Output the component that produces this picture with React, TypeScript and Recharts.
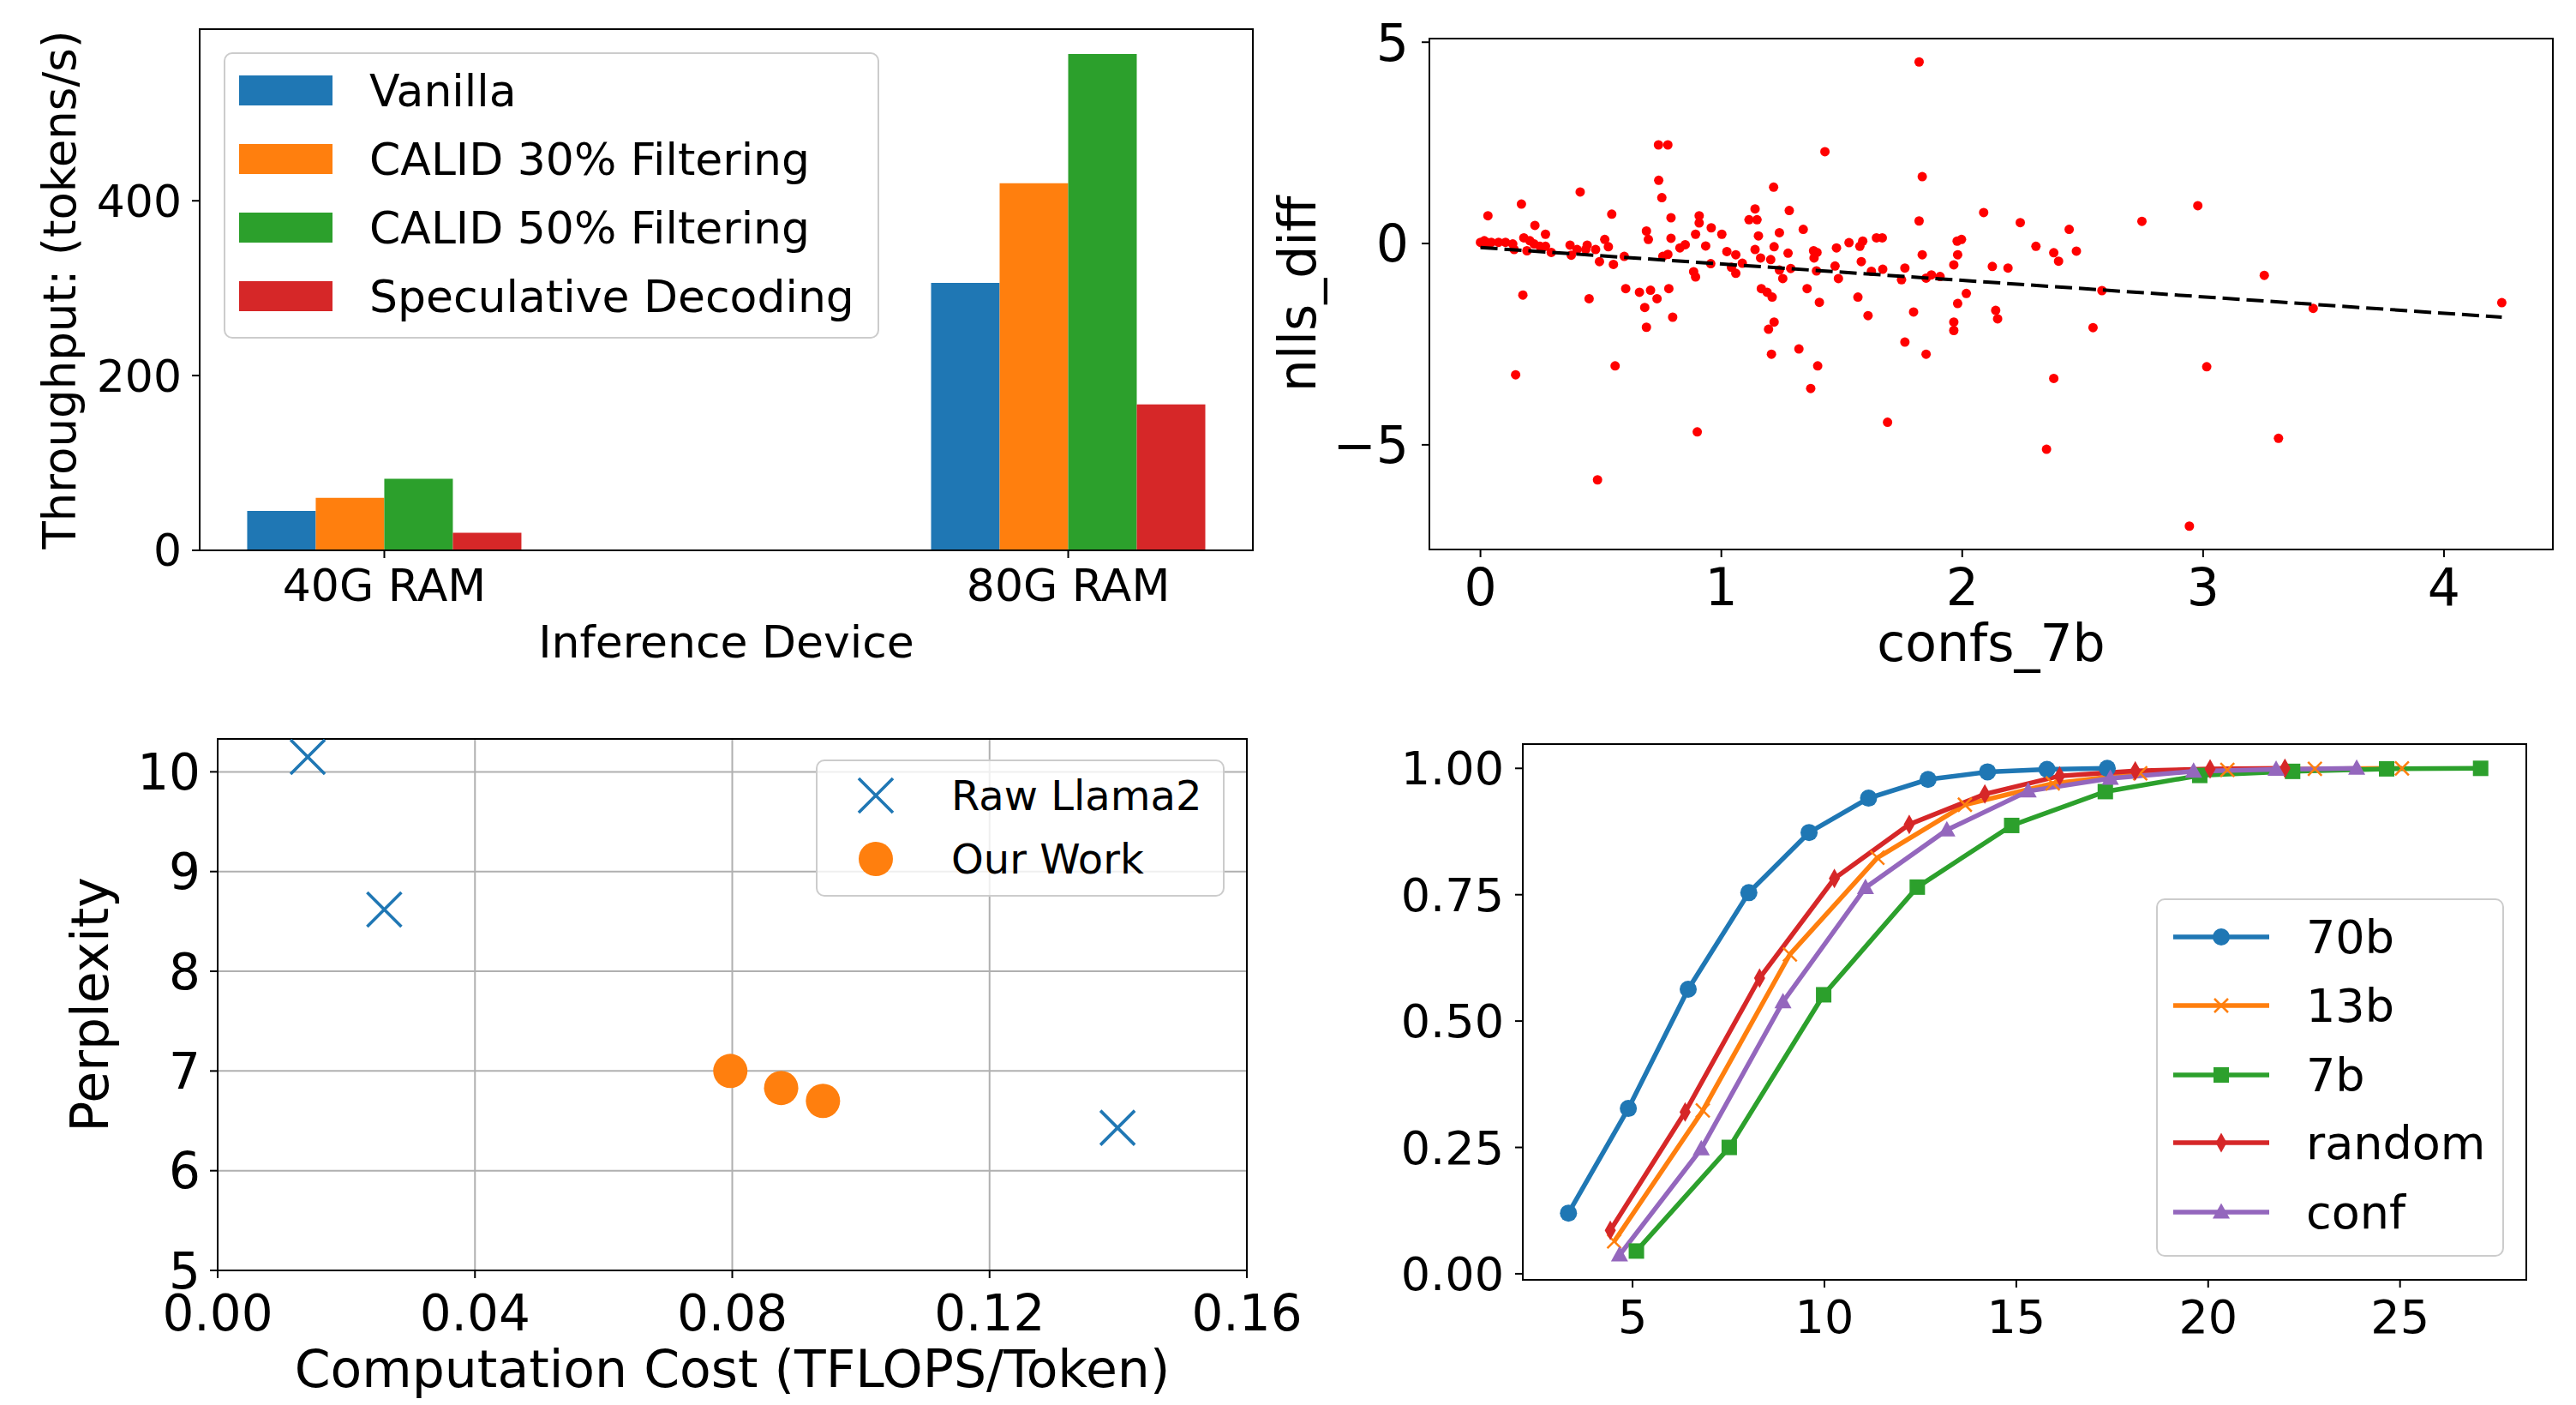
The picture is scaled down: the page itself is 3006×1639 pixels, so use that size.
import React from 'react';
import {
  ComposedChart,
  ScatterChart,
  LineChart,
  Bar,
  Scatter,
  Line,
  XAxis,
  YAxis,
  CartesianGrid,
  ReferenceArea,
  Legend,
} from 'recharts';

const FONT = '"DejaVu Sans", Verdana, sans-serif';
const BLUE = '#1f77b4';
const ORANGE = '#ff7f0e';
const GREEN = '#2ca02c';
const RED = '#d62728';
const PURPLE = '#9467bd';

// top left: throughput per device
const devices = ['40G RAM', '80G RAM'];
const vanilla = [45, 306];
const calid30 = [60, 420];
const calid50 = [82, 568];
const speculative = [20, 167];

// top right: nlls_diff against confs_7b
const confs7b = [
  0.0, 0.01, 0.016, 0.03, 0.045, 0.075, 0.104, 0.134, 0.14, 0.18, 0.193, 0.205, 0.223, 0.247, 0.27, 0.294,
  0.031, 0.17, 0.226, 0.27, 0.176, 0.146, 0.372, 0.377, 0.401, 0.443, 0.437, 0.414, 0.451, 0.478, 0.516,
  0.531, 0.494, 0.552, 0.545, 0.559, 0.486, 0.597, 0.603, 0.66, 0.706, 0.733, 0.682, 0.689, 0.798, 0.782,
  0.689, 0.697, 0.74, 0.753, 0.739, 0.778, 0.791, 0.791, 0.778, 0.757, 0.828, 0.85, 0.908, 0.908, 0.893,
  0.885, 0.893, 0.9, 0.935, 0.958, 0.956, 1.002, 1.023, 1.06, 1.042, 1.06, 1.087, 1.14, 1.115, 1.148,
  1.154, 1.14, 1.163, 1.205, 1.217, 1.219, 1.166, 1.19, 1.211, 1.219, 1.196, 1.208, 1.241, 1.241, 1.255,
  1.282, 1.277, 1.288, 1.34, 1.356, 1.322, 1.4, 1.371, 1.43, 1.383, 1.397, 1.385, 1.395, 1.407, 1.478,
  1.472, 1.486, 1.53, 1.575, 1.587, 1.581, 1.567, 1.609, 1.644, 1.668, 1.623, 1.67, 1.69, 1.762, 1.748,
  1.798, 1.762, 1.821, 1.834, 1.821, 1.834, 1.85, 1.872, 1.908, 1.85, 1.965, 1.981, 1.979, 1.997, 1.981,
  2.017, 1.965, 1.965, 2.089, 2.125, 2.19, 2.139, 2.147, 2.241, 2.306, 2.38, 2.4, 2.444, 2.474, 2.38,
  2.35, 2.543, 2.58, 2.746, 2.978, 3.015, 2.943, 3.254, 3.313, 3.457, 4.24,
];
const nllsDiff = [
  0.03, 0.0, 0.07, 0.02, 0.03, 0.03, 0.03, -0.01, -0.15, 0.14, -0.18, 0.07, -0.01, -0.07, -0.07, -0.22,
  0.69, 0.98, 0.45, 0.23, -1.28, -3.26, -0.04, -0.29, -0.15, -0.04, -0.15, 1.28, -1.37, -0.15, 0.1,
  -0.08, -0.45, -0.52, 0.73, -3.04, -5.87, -0.32, -1.12, -1.21, -1.16, -1.37, -1.59, -2.08, -1.83, -1.12,
  0.31, 0.1, 1.57, 1.14, 2.45, 2.45, 0.64, 0.13, -0.27, -0.32, -0.11, -0.03, 0.69, 0.51, 0.23,
  -0.7, -0.83, -4.68, -0.06, 0.39, -0.5, 0.23, -0.2, -0.28, -0.59, -0.74, -0.49, 0.86, 0.59, 0.59,
  0.19, -0.15, -0.36, -0.4, 1.4, -0.08, -1.12, -1.21, -1.33, -1.95, -2.13, -2.75, 0.27, -0.66, -0.87,
  0.82, -0.24, -0.62, 0.35, -1.12, -2.62, -3.04, -3.6, 2.28, -0.18, -0.22, -0.36, -0.68, -1.46, -0.11,
  -0.56, -0.87, 0.02, -0.07, 0.06, -0.45, -1.33, -1.79, 0.14, 0.14, -0.69, -0.64, -4.44, -0.61, -0.9,
  -1.7, -2.45, 4.51, 1.66, 0.56, -0.28, -0.86, -0.78, -0.82, -2.75, -0.53, -0.28, 0.06, 0.1, -1.49,
  -1.24, -1.95, -2.16, 0.77, -0.57, -0.61, -1.66, -1.87, 0.52, -0.07, -0.23, -0.44, 0.35, -0.19, -3.35,
  -5.11, -2.09, -1.17, 0.55, 0.94, -3.06, -7.02, -0.79, -4.84, -1.61, -1.47,
];
const fitX = [0, 4.24];
const fitY = [-0.1, -1.83];

// bottom left: perplexity against computation cost
const rawCost = [0.014, 0.0259, 0.1399];
const rawPpl = [10.15, 8.62, 6.43];
const ourCost = [0.0797, 0.0876, 0.0941];
const ourPpl = [7.0, 6.83, 6.7];

// bottom right: cumulative curves
const x70b = [3.33, 4.89, 6.45, 8.03, 9.6, 11.15, 12.7, 14.25, 15.8, 17.37];
const y70b = [0.12, 0.327, 0.563, 0.754, 0.873, 0.941, 0.978, 0.993, 0.998, 1.0];
const x13b = [4.52, 6.83, 9.1, 11.38, 13.66, 15.95, 18.23, 20.5, 22.78, 25.05];
const y13b = [0.064, 0.323, 0.632, 0.823, 0.928, 0.97, 0.99, 0.997, 0.999, 1.0];
const x7b = [5.1, 7.52, 9.98, 12.42, 14.88, 17.32, 19.78, 22.2, 24.65, 27.1];
const y7b = [0.045, 0.25, 0.552, 0.765, 0.887, 0.954, 0.986, 0.994, 0.999, 1.0];
const xRandom = [4.42, 6.37, 8.31, 10.26, 12.21, 14.18, 16.13, 18.1, 20.05, 22.0];
const yRandom = [0.086, 0.32, 0.585, 0.782, 0.889, 0.949, 0.985, 0.995, 0.999, 1.0];
const xConf = [4.66, 6.79, 8.92, 11.07, 13.19, 15.31, 17.45, 19.62, 21.77, 23.87];
const yConf = [0.037, 0.247, 0.538, 0.764, 0.878, 0.955, 0.98, 0.994, 0.998, 1.0];

const pts = (xs: number[], ys: number[]) => xs.map((x, i) => ({ x, y: ys[i] }));

type MarkerKind = 'circle' | 'x' | 'square' | 'diamond' | 'triangle';

const drawMarker = (kind: MarkerKind, cx: number, cy: number, color: string, size: number) => {
  const h = size / 2;
  switch (kind) {
    case 'circle':
      return <circle cx={cx} cy={cy} r={h} fill={color} />;
    case 'x':
      return (
        <path
          d={`M${cx - h},${cy - h}L${cx + h},${cy + h}M${cx - h},${cy + h}L${cx + h},${cy - h}`}
          stroke={color}
          strokeWidth={Math.max(2.5, size / 11)}
          fill="none"
        />
      );
    case 'square':
      return <rect x={cx - h} y={cy - h} width={size} height={size} fill={color} />;
    case 'diamond':
      return <path d={`M${cx},${cy - h * 1.15}L${cx + h * 0.65},${cy}L${cx},${cy + h * 1.15}L${cx - h * 0.65},${cy}Z`} fill={color} />;
    default:
      return <path d={`M${cx},${cy - h * 1.05}L${cx + h},${cy + h * 0.75}L${cx - h},${cy + h * 0.75}Z`} fill={color} />;
  }
};

const markerDot = (kind: MarkerKind, color: string, size: number) => (props: any) => (
  <g key={`${kind}-${props.index}`}>{drawMarker(kind, props.cx, props.cy, color, size)}</g>
);

type LegendEntry = { label: string; color: string; kind: 'patch' | 'line' | 'marker'; marker?: MarkerKind; size?: number };
type LegendSpec = { width: number; height: number; rows: number[]; swatch: [number, number]; textX: number; fontSize: number };

const LegendBox = ({ entries, spec }: { entries: LegendEntry[]; spec: LegendSpec }) => {
  const mid = (spec.swatch[0] + spec.swatch[1]) / 2;
  return (
    <svg width={spec.width} height={spec.height} style={{ display: 'block', fontFamily: FONT }}>
      <rect x={1} y={1} width={spec.width - 2} height={spec.height - 2} rx={9} ry={9}
        fill="#fff" fillOpacity={0.8} stroke="#cccccc" strokeWidth={2} />
      {entries.map((e, i) => {
        const cy = spec.rows[i];
        return (
          <g key={e.label}>
            {e.kind === 'patch' && (
              <rect x={spec.swatch[0]} y={cy - 17} width={spec.swatch[1] - spec.swatch[0]} height={35} fill={e.color} />
            )}
            {e.kind === 'line' && (
              <line x1={spec.swatch[0]} x2={spec.swatch[1]} y1={cy} y2={cy} stroke={e.color} strokeWidth={5.5} />
            )}
            {e.marker && drawMarker(e.marker, mid, cy, e.color, e.size || 16)}
            <text x={spec.textX} y={cy + spec.fontSize * 0.36} fontSize={spec.fontSize} fill="#000">
              {e.label}
            </text>
          </g>
        );
      })}
    </svg>
  );
};

const axisLine = { stroke: '#000', strokeWidth: 2 };
const tickLine = { stroke: '#000', strokeWidth: 2 };
const tickFont = (size: number) => ({ fontSize: size, fill: '#000' });
const minus = (v: number) => (v < 0 ? '\u2212' + Math.abs(v) : String(v));

const ThroughputPanel = () => {
  const data = devices.map((d, i) => ({
    pos: i,
    vanilla: vanilla[i],
    calid30: calid30[i],
    calid50: calid50[i],
    speculative: speculative[i],
  }));
  const entries: LegendEntry[] = [
    { label: 'Vanilla', color: BLUE, kind: 'patch' },
    { label: 'CALID 30% Filtering', color: ORANGE, kind: 'patch' },
    { label: 'CALID 50% Filtering', color: GREEN, kind: 'patch' },
    { label: 'Speculative Decoding', color: RED, kind: 'patch' },
  ];
  return (
    <ComposedChart width={1500} height={800} data={data} barGap={0} barSize={80}
      margin={{ top: 34, right: 38, bottom: 28, left: 63 }}>
      <XAxis dataKey="pos" type="number" domain={[-0.27, 1.27]} ticks={[0, 1]} allowDataOverflow interval={0}
        tickFormatter={(v: number) => devices[v]} height={130} tickSize={9} tickMargin={13}
        axisLine={axisLine} tickLine={tickLine} tick={tickFont(52)}
        label={{ value: 'Inference Device', position: 'insideBottom', offset: 5, fontSize: 52, fill: '#000' }} />
      <YAxis type="number" domain={[0, 596.4]} ticks={[0, 200, 400]} allowDataOverflow interval={0}
        width={170} tickSize={9} tickMargin={12} axisLine={axisLine} tickLine={tickLine} tick={tickFont(52)}
        label={{ value: 'Throughput: (tokens/s)', angle: -90, position: 'insideLeft', offset: 6, fontSize: 53, fill: '#000', style: { textAnchor: 'middle' } }} />
      <Bar dataKey="vanilla" fill={BLUE} isAnimationActive={false} />
      <Bar dataKey="calid30" fill={ORANGE} isAnimationActive={false} />
      <Bar dataKey="calid50" fill={GREEN} isAnimationActive={false} />
      <Bar dataKey="speculative" fill={RED} isAnimationActive={false} />
      <ReferenceArea x1={-0.27} x2={1.27} y1={0} y2={596.4} fill="none" stroke="#000" strokeWidth={2} ifOverflow="visible" />
      <Legend layout="vertical" align="center" verticalAlign="middle"
        wrapperStyle={{ left: 261, top: 61, width: 765, height: 334 }}
        content={() => (
          <LegendBox entries={entries}
            spec={{ width: 765, height: 334, rows: [44, 124, 204, 284], swatch: [18, 127], textX: 170, fontSize: 52 }} />
        )} />
    </ComposedChart>
  );
};

const NllsPanel = () => {
  const points = pts(confs7b, nllsDiff);
  const fit = pts(fitX, fitY);
  return (
    <ScatterChart width={1566} height={800} margin={{ top: 45, right: 27, bottom: 9, left: 60 }}>
      <XAxis dataKey="x" type="number" domain={[-0.212, 4.452]} ticks={[0, 1, 2, 3, 4]} allowDataOverflow interval={0}
        height={150} tickSize={9} tickMargin={13} axisLine={axisLine} tickLine={tickLine} tick={tickFont(60)}
        label={{ value: 'confs_7b', position: 'insideBottom', offset: 20, fontSize: 60, fill: '#000' }} />
      <YAxis dataKey="y" type="number" domain={[-7.6, 5.09]} ticks={[-5, 0, 5]} allowDataOverflow interval={0}
        width={168} tickSize={9} tickMargin={15} axisLine={axisLine} tickLine={tickLine} tick={tickFont(60)}
        tickFormatter={minus}
        label={{ value: 'nlls_diff', angle: -90, position: 'insideLeft', offset: 14, fontSize: 60, fill: '#000', style: { textAnchor: 'middle' } }} />
      <Scatter data={points} fill="#ff0000" isAnimationActive={false}
        shape={(p: any) => <circle cx={p.cx} cy={p.cy} r={5.5} fill="#ff0000" />} />
      <Scatter data={fit} isAnimationActive={false} shape={() => <g />}
        line={{ stroke: '#000', strokeWidth: 4, strokeDasharray: '20 8' }} />
      <ReferenceArea x1={-0.212} x2={4.452} y1={-7.6} y2={5.09} fill="none" stroke="#000" strokeWidth={2} ifOverflow="visible" />
    </ScatterChart>
  );
};

const PerplexityPanel = () => {
  const entries: LegendEntry[] = [
    { label: 'Raw Llama2', color: BLUE, kind: 'marker', marker: 'x', size: 40 },
    { label: 'Our Work', color: ORANGE, kind: 'marker', marker: 'circle', size: 40 },
  ];
  return (
    <ScatterChart width={1560} height={839} margin={{ top: 62, right: 105, bottom: 7, left: 54 }}>
      <CartesianGrid stroke="#b0b0b0" strokeWidth={2} />
      <XAxis dataKey="x" type="number" domain={[0, 0.16]} ticks={[0, 0.04, 0.08, 0.12, 0.16]} allowDataOverflow interval={0}
        tickFormatter={(v: number) => v.toFixed(2)} height={150} tickSize={9} tickMargin={20}
        axisLine={axisLine} tickLine={tickLine} tick={tickFont(58)}
        label={{ value: 'Computation Cost (TFLOPS/Token)', position: 'insideBottom', offset: 14, fontSize: 60, fill: '#000' }} />
      <YAxis dataKey="y" type="number" domain={[5, 10.33]} ticks={[5, 6, 7, 8, 9, 10]} allowDataOverflow interval={0}
        width={200} tickSize={9} tickMargin={11} axisLine={axisLine} tickLine={tickLine} tick={tickFont(58)}
        label={{ value: 'Perplexity', angle: -90, position: 'insideLeft', offset: 51, fontSize: 60, fill: '#000', style: { textAnchor: 'middle' } }} />
      <Scatter data={pts(rawCost, rawPpl)} isAnimationActive={false}
        shape={(p: any) => drawMarker('x', p.cx, p.cy, BLUE, 40)} />
      <Scatter data={pts(ourCost, ourPpl)} isAnimationActive={false}
        shape={(p: any) => drawMarker('circle', p.cx, p.cy, ORANGE, 40)} />
      <ReferenceArea x1={0} x2={0.16} y1={5} y2={10.33} fill="none" stroke="#000" strokeWidth={2} ifOverflow="visible" />
      <Legend layout="vertical" align="center" verticalAlign="middle"
        wrapperStyle={{ left: 952, top: 86, width: 477, height: 160 }}
        content={() => (
          <LegendBox entries={entries}
            spec={{ width: 477, height: 160, rows: [42, 116], swatch: [50, 90], textX: 158, fontSize: 48 }} />
        )} />
    </ScatterChart>
  );
};

const CurvesPanel = () => {
  const series = [
    { label: '70b', color: BLUE, marker: 'circle' as MarkerKind, size: 20, xs: x70b, ys: y70b },
    { label: '13b', color: ORANGE, marker: 'x' as MarkerKind, size: 16, xs: x13b, ys: y13b },
    { label: '7b', color: GREEN, marker: 'square' as MarkerKind, size: 18, xs: x7b, ys: y7b },
    { label: 'random', color: RED, marker: 'diamond' as MarkerKind, size: 20, xs: xRandom, ys: yRandom },
    { label: 'conf', color: PURPLE, marker: 'triangle' as MarkerKind, size: 20, xs: xConf, ys: yConf },
  ];
  const entries: LegendEntry[] = series.map((s) => ({ label: s.label, color: s.color, kind: 'line', marker: s.marker, size: s.size }));
  return (
    <LineChart width={1506} height={839} margin={{ top: 68, right: 58, bottom: 46, left: 0 }}>
      <XAxis dataKey="x" type="number" domain={[2.14, 28.29]} ticks={[5, 10, 15, 20, 25]} allowDataOverflow interval={0}
        height={100} tickSize={9} tickMargin={15} axisLine={axisLine} tickLine={tickLine} tick={tickFont(54)} />
      <YAxis type="number" domain={[-0.012, 1.048]} ticks={[0, 0.25, 0.5, 0.75, 1]} allowDataOverflow interval={0}
        tickFormatter={(v: number) => v.toFixed(2)} width={277} tickSize={9} tickMargin={13}
        axisLine={axisLine} tickLine={tickLine} tick={tickFont(54)} />
      {series.map((s) => (
        <Line key={s.label} data={pts(s.xs, s.ys)} dataKey="y" stroke={s.color} strokeWidth={5.5}
          dot={markerDot(s.marker, s.color, s.size)} activeDot={false} isAnimationActive={false} />
      ))}
      <ReferenceArea x1={2.14} x2={28.29} y1={-0.012} y2={1.048} fill="none" stroke="#000" strokeWidth={2} ifOverflow="visible" />
      <Legend layout="vertical" align="center" verticalAlign="middle"
        wrapperStyle={{ left: 1016, top: 248, width: 406, height: 418 }}
        content={() => (
          <LegendBox entries={entries}
            spec={{ width: 406, height: 418, rows: [45, 125, 206, 285, 366], swatch: [20, 132], textX: 175, fontSize: 54 }} />
        )} />
    </LineChart>
  );
};

const App = () => (
  <div style={{ position: 'absolute', left: 0, top: 0, width: 3006, height: 1639, background: '#fff', fontFamily: FONT }}>
    <div style={{ position: 'absolute', left: 0, top: 0 }}>
      <ThroughputPanel />
    </div>
    <div style={{ position: 'absolute', left: 1440, top: 0 }}>
      <NllsPanel />
    </div>
    <div style={{ position: 'absolute', left: 1500, top: 800 }}>
      <CurvesPanel />
    </div>
    <div style={{ position: 'absolute', left: 0, top: 800 }}>
      <PerplexityPanel />
    </div>
  </div>
);

export default App;
